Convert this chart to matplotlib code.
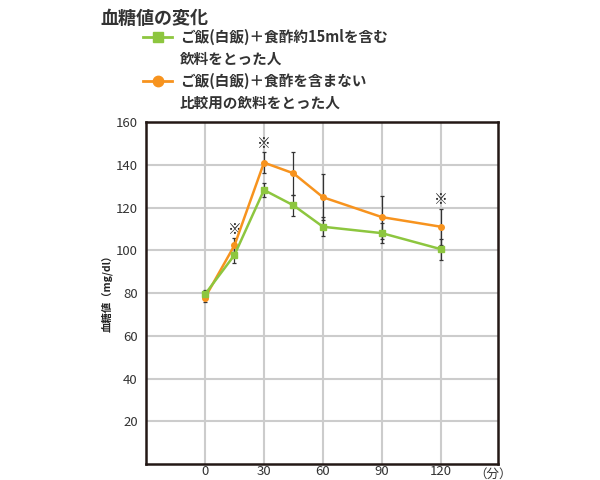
import numpy as np
import matplotlib.pyplot as plt
from matplotlib.lines import Line2D

plt.rcParams['font.family'] = ['Noto Sans CJK JP', 'DejaVu Sans']

# data
minutes = [0, 15, 30, 45, 60, 90, 120]
vinegar = [79.4, 97.8, 128.2, 121, 111, 108, 100.5]
vinegar_err = [2, 3.7, 3.2, 5, 4.5, 4.7, 4.9]
control = [77.8, 102.3, 141, 136, 124.8, 115.5, 111]
control_err = [2, 3.3, 5, 10, 10.8, 10, 8.4]
star_minutes = [15, 30, 120]
star_levels = [109.5, 149.5, 123.5]

green = '#8dc63f'
orange = '#f7931e'

fig = plt.figure(figsize=(6, 4.8), dpi=100)
ax = fig.add_axes([0.2433, 0.0333, 0.5867, 0.7125])

ax.errorbar(minutes, control, yerr=control_err, fmt='none', ecolor='#333333',
            elinewidth=0.9, capsize=1.5, capthick=0.9, zorder=3)
ax.errorbar(minutes, vinegar, yerr=vinegar_err, fmt='none', ecolor='#333333',
            elinewidth=0.9, capsize=1.5, capthick=0.9, zorder=3)
ax.plot(minutes, control, color=orange, lw=1.8, marker='o', ms=4, zorder=4)
ax.plot(minutes, vinegar, color=green, lw=1.8, marker='s', ms=4, zorder=5)

for x, y in zip(star_minutes, star_levels):
    ax.text(x, y, '※', ha='center', va='center', fontsize=10, color='#222222')

ax.set_xlim(-30, 149)
ax.set_ylim(0, 160)
ax.set_xticks([0, 30, 60, 90, 120])
ax.set_yticks(np.arange(20, 161, 20))
ax.grid(True, color='#cccccc', lw=1.5)
ax.set_axisbelow(True)
ax.tick_params(axis='y', length=0, labelsize=9.5, colors='#333333', pad=6)
ax.tick_params(axis='x', length=0, labelsize=9.5, colors='#333333', pad=1)
for s in ax.spines.values():
    s.set_color('#231815')
    s.set_linewidth(1.8)

fig.text(0.178, 0.394, '血糖値（mg/dl）', rotation=90, ha='center', va='center',
         fontsize=7.5, fontweight='bold', color='#222222')
ax.text(0.985, -0.0115, '（分）', transform=ax.transAxes, ha='center', va='top',
        fontsize=9, color='#333333')

fig.text(0.167, 0.982, '血糖値の変化', fontsize=13, fontweight='bold',
         color='#333333', va='top')

# legend drawn by hand
legend_rows = [(0.923, green, 's', 'ご飯(白飯)＋食酢約15mlを含む\n飲料をとった人'),
               (0.831, orange, 'o', 'ご飯(白飯)＋食酢を含まない\n比較用の飲料をとった人')]
for y, col, mk, label in legend_rows:
    fig.add_artist(Line2D([0.238, 0.287], [y, y], color=col, lw=2,
                          transform=fig.transFigure))
    fig.add_artist(Line2D([0.2625], [y], color=col, marker=mk, ms=7.5,
                          transform=fig.transFigure))
    fig.text(0.30, y + 0.018, label, fontsize=10.5, fontweight='bold',
             color='#333333', va='top', linespacing=1.5)

fig.savefig('out.png')
